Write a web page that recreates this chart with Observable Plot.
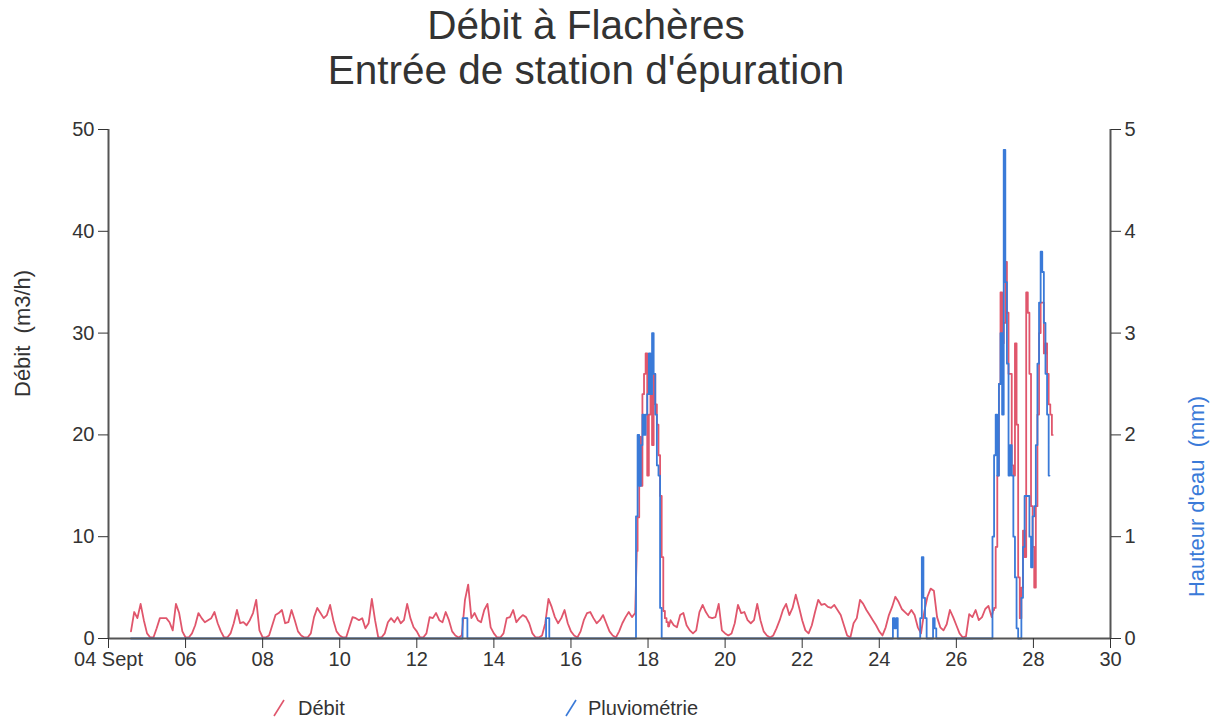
<!DOCTYPE html>
<html>
<head>
<meta charset="utf-8">
<script src="https://cdn.jsdelivr.net/npm/d3@7"></script>
<script src="https://cdn.jsdelivr.net/npm/@observablehq/plot@0.6"></script>
<style>
  html, body { margin: 0; padding: 0; background: #fff; }
  #wrap { position: relative; width: 1213px; height: 719px; font-family: "Liberation Sans", Arial, sans-serif; color: #333; overflow: hidden; }
  .title { position: absolute; left: 586px; transform: translateX(-50%); font-size: 40.5px; line-height: 1; white-space: nowrap; color: #333; }
  #chart { position: absolute; left: 0; top: 110px; }
  .legtext { position: absolute; top: 698px; font-size: 20px; line-height: 1; color: #333; white-space: nowrap; }
  .legicon { position: absolute; top: 699px; }
</style>
</head>
<body>
<div id="wrap">
  <div class="title" style="top:5px">Débit à Flachères</div>
  <div class="title" style="top:50px">Entrée de station d'épuration</div>
  <div id="chart"></div>
  <svg class="legicon" style="left:272px" width="14" height="18"><line x1="2" y1="17" x2="12" y2="1" stroke="#e0566c" stroke-width="1.6"/></svg>
  <div class="legtext" style="left:298px" id="leg1"></div>
  <svg class="legicon" style="left:564px" width="14" height="18"><line x1="2" y1="17" x2="12" y2="1" stroke="#3a7ad8" stroke-width="1.6"/></svg>
  <div class="legtext" style="left:588px" id="leg2"></div>
</div>
<script>
// ---- Data (hours counted from 04 Sept 00:00) ----
const seriesNames = ["Débit", "Pluviométrie"];
const xTickDays = [4, 6, 8, 10, 12, 14, 16, 18, 20, 22, 24, 26, 28, 30];
const xTickLabels = ["04 Sept", "06", "08", "10", "12", "14", "16", "18", "20", "22", "24", "26", "28", "30"];
const yLeftTicks = [0, 10, 20, 30, 40, 50];
const yRightTicks = [0, 1, 2, 3, 4, 5];

// Débit (m3/h), every 2 h from hour 14 (04 Sept) to hour 328
const debitSept4to17 = [
  0.7, 2.6, 2.0, 3.4, 1.8,
  0.5, 0.1, 0.1, 1.0, 2.0, 2.0, 2.0, 1.6, 0.8, 3.4, 2.5, 0.7,
  0.1, 0.1, 0.5, 1.3, 2.5, 2.0, 1.6, 1.8, 2.0, 2.6, 1.5, 0.7,
  0.1, 0.1, 0.5, 1.5, 2.8, 1.5, 1.6, 1.3, 1.8, 2.5, 3.8, 0.8,
  0.1, 0.1, 0.3, 1.3, 2.3, 2.5, 2.8, 1.5, 1.6, 2.8, 1.8, 0.7,
  0.3, 0.1, 0.1, 0.5, 2.1, 3.0, 2.5, 2.0, 2.3, 3.3, 1.8, 0.7,
  0.3, 0.1, 0.1, 1.1, 2.1, 2.0, 1.8, 2.0, 1.0, 1.5, 3.9, 1.8,
  0.1, 0.1, 0.5, 1.6, 2.0, 1.6, 2.1, 1.5, 1.8, 3.4, 2.0, 1.1,
  0.7, 0.1, 0.1, 0.5, 2.1, 2.0, 2.5, 1.8, 1.6, 2.6, 1.8, 0.7,
  0.3, 0.1, 0.3, 3.8, 5.3, 2.0, 2.5, 1.8, 1.6, 2.8, 3.4, 1.1,
  0.5, 0.1, 0.1, 0.5, 2.0, 2.1, 2.8, 1.6, 2.0, 2.3, 2.1, 1.5,
  0.5, 0.1, 0.1, 0.3, 1.5, 3.9, 3.1, 2.1, 1.5, 2.0, 2.8, 1.5,
  0.7, 0.3, 0.1, 0.7, 1.8, 2.5, 2.6, 2.0, 1.5, 1.8, 2.3, 1.5,
  0.7, 0.3, 0.1, 0.7, 1.5, 2.1, 2.6, 2.1, 2.5
];
// Débit, hourly from hour 329 (storm of 17-18 Sept)
const debitStorm18 = [8.6, 11.9, 19.8, 15, 24, 26, 28, 16, 22, 24, 19, 26, 23, 21, 18, 14, 8, 2.7, 2.0, 1.6, 1.2];
// Débit, every 2 h from hour 350 to hour 550
const debitSept18to26 = [
  1.8, 1.3, 1.1, 2.3, 2.5,
  1.3, 0.8, 0.5, 0.8, 2.6, 3.3, 2.6, 2.1, 2.0, 2.1, 3.4, 0.8,
  0.5, 0.3, 0.5, 1.5, 3.3, 2.5, 2.6, 1.8, 1.5, 1.8, 3.4, 1.8,
  0.7, 0.3, 0.1, 0.3, 1.0, 1.8, 2.8, 3.4, 2.3, 3.0, 4.3, 3.1,
  1.8, 0.8, 0.5, 1.3, 2.6, 3.8, 3.3, 3.4, 3.1, 3.0, 3.3, 2.8,
  2.3, 1.3, 0.3, 0.1, 1.5, 2.0, 3.8, 3.4, 2.8, 2.3, 1.8, 1.3,
  0.7, 0.3, 1.1, 2.3, 3.1, 4.1, 3.6, 2.9, 2.6, 2.3, 2.8, 2.3,
  1.1, 0.5, 2.6, 4.1, 4.9, 4.7, 2.1, 1.1, 0.8, 1.4, 2.8, 2.1,
  1.3, 0.5, 0.1, 0.2, 2.4, 2.1, 2.8, 1.8, 2.1, 2.9, 3.2, 2.1
];
// Débit, hourly from hour 551 (storm of 27-28 Sept)
const debitStorm27 = [2.8, 3.0, 9, 16, 25, 34, 29, 31, 37, 32, 26, 26, 17, 16, 29, 21, 6, 2, 5, 10.6, 8, 34, 32, 26, 13, 9, 5, 13, 22, 30, 33, 33, 28, 29, 26, 23, 22, 20];

// Pluviométrie (mm)
const pluvioHours = [14, 220, 221, 222, 223, 224, 272, 273, 274, 275,
  328, 329, 330, 331, 332, 333, 334, 335, 336, 337, 338, 339, 340, 341, 342, 343, 344, 345,
  488, 489, 490, 491, 492, 505, 506, 507, 508, 509, 510, 513, 514, 515, 516,
  550, 551, 552, 553, 554, 555, 556, 557, 558, 559, 560, 561, 562, 563, 564, 565, 566, 567, 568,
  569, 570, 571, 572, 573, 574, 575, 576, 577, 578, 579, 580, 581, 582, 583, 584, 585, 586];
const pluvioMm = [0, 0, 0.2, 0.2, 0.2, 0, 0, 0.2, 0.2, 0,
  0, 1.2, 2.0, 1.5, 1.9, 2.2, 2.0, 2.2, 2.4, 2.8, 2.4, 3.0, 2.6, 2.2, 1.7, 1.6, 0.3, 0,
  0, 0.2, 0.1, 0.2, 0, 0, 0.2, 0.8, 0.4, 0.2, 0, 0, 0.2, 0.1, 0,
  0, 1.0, 1.8, 2.2, 1.6, 2.5, 3.0, 2.2, 4.8, 3.5, 2.7, 1.6, 1.9, 1.6, 1.0, 0.6, 0.1, 0, 0,
  0.4, 0.9, 1.4, 1.4, 1.4, 1.0, 0.7, 1.2, 1.3, 1.9, 2.7, 3.3, 3.8, 3.6, 3.1, 2.6, 2.2, 1.6];

// ---- Build tables ----
const toSeries = (startHour, stepHours, values, seg) =>
  values.map((v, i) => ({day: 4 + (startHour + i * stepHours) / 24, v, seg}));
const s1 = toSeries(329, 1, debitStorm18, "storm18");
const s2 = toSeries(551, 1, debitStorm27, "storm27");
// dry-weather parts (drawn as a smooth line), joined to the storm parts
const debitDry = [
  ...toSeries(14, 2, debitSept4to17, "a"), {...s1[0], seg: "a"},
  {...s1[s1.length - 1], seg: "b"}, ...toSeries(350, 2, debitSept18to26, "b"), {...s2[0], seg: "b"}
];
// storm parts (hourly, drawn as steps)
const debitStorm = [...s1, ...s2];
// rain plotted on the same scale: 1 mm = 10 units of the left axis
const pluvio = pluvioHours.map((h, i) => ({day: 4 + h / 24, v: pluvioMm[i] * 10}));

const RED = "#e0566c", BLUE = "#3a7ad8";

const chart = Plot.plot({
  width: 1213,
  height: 568,
  marginLeft: 108,
  marginRight: 103,
  marginTop: 19,
  marginBottom: 40,
  style: {fontFamily: "'Liberation Sans', Arial, sans-serif", fontSize: "20px", color: "#333", background: "#fff", overflow: "visible"},
  x: {domain: [4, 30]},
  y: {domain: [0, 50]},
  marks: [
    Plot.line(debitDry, {x: "day", y: "v", z: "seg", stroke: RED, strokeWidth: 1.8, curve: "linear"}),
    Plot.line(debitStorm, {x: "day", y: "v", z: "seg", stroke: RED, strokeWidth: 1.8, curve: "step"}),
    Plot.line(pluvio, {x: "day", y: "v", stroke: BLUE, strokeWidth: 1.8, curve: "step"}),
    Plot.ruleY([0], {stroke: "#555", strokeWidth: 2}),
    Plot.ruleX([4, 30], {stroke: "#555", strokeWidth: 2}),
    Plot.axisX({ticks: xTickDays, tickFormat: d => xTickLabels[xTickDays.indexOf(d)], tickSize: 10, tickPadding: 3, label: null}),
    Plot.axisY({ticks: yLeftTicks, tickSize: 10, tickPadding: 4, label: null}),
    Plot.axisY({anchor: "right", ticks: yRightTicks.map(d => d * 10), tickFormat: d => String(d / 10), tickSize: 10, tickPadding: 4, label: null}),
    Plot.text(["Débit\u00a0 (m3/h)"], {text: d => d, frameAnchor: "left", dx: -86, dy: 13, rotate: -90, fontSize: 22, fill: "#333"}),
    Plot.text(["Hauteur d'eau\u00a0 (mm)"], {text: d => d, frameAnchor: "right", dx: 86, dy: 12, rotate: -90, fontSize: 22, fill: BLUE})
  ]
});
document.getElementById("chart").appendChild(chart);
document.getElementById("leg1").textContent = seriesNames[0];
document.getElementById("leg2").textContent = seriesNames[1];
</script>
</body>
</html>
